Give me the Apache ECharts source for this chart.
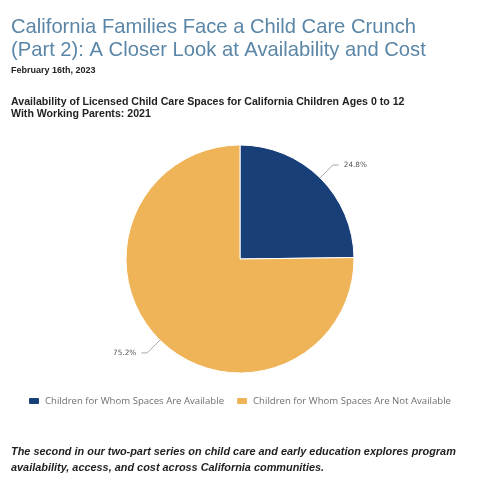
<!DOCTYPE html>
<html>
<head>
<meta charset="utf-8">
<script src="https://cdn.jsdelivr.net/npm/echarts@6/dist/echarts.min.js"></script>
<style>html,body{margin:0;padding:0;background:#fff;}#c{width:478px;height:481px;}</style>
</head>
<body>
<div id="c"></div>
<script>
const categories = ['Children for Whom Spaces Are Available', 'Children for Whom Spaces Are Not Available'];
const values = [24.8, 75.2];
const colors = ['#183f78', '#eeb457'];
const headline = 'California Families Face a Child Care Crunch\n(Part 2): A Closer Look at Availability and Cost';
const dateText = 'February 16th, 2023';
const chartTitle = 'Availability of Licensed Child Care Spaces for California Children Ages 0 to 12\nWith Working Parents: 2021';
const footer = 'The second in our two-part series on child care and early education explores program\navailability, access, and cost across California communities.';

const chart = echarts.init(document.getElementById('c'), null, {renderer: 'canvas'});
chart.setOption({
  backgroundColor: '#ffffff',
  animation: false,
  title: [
    {text: headline, left: 6, top: 11, textStyle: {fontFamily: 'Liberation Sans', fontSize: 20.2, fontWeight: 'normal', color: '#5a86a7', lineHeight: 23}},
    {text: dateText, left: 6, top: 60, textStyle: {fontFamily: 'Liberation Sans', fontSize: 9, fontWeight: 'bold', color: '#222', lineHeight: 11}},
    {text: chartTitle, left: 6, top: 91, textStyle: {fontFamily: 'Liberation Sans', fontSize: 10.6, fontWeight: 'bold', color: '#222', lineHeight: 12}},
    {text: footer, left: 6, top: 439, textStyle: {fontFamily: 'Liberation Sans', fontSize: 10.9, fontWeight: 'bold', fontStyle: 'italic', color: '#222', lineHeight: 16}}
  ],
  color: colors,
  legend: {
    data: categories,
    top: 391,
    left: 'center',
    itemWidth: 12,
    itemHeight: 8,
    itemGap: 11,
    icon: 'roundRect',
    textStyle: {fontFamily: 'Open Sans', fontSize: 9.6, color: '#707070'}
  },
  series: [{
    type: 'pie',
    center: [240, 259],
    radius: 114,
    startAngle: 90,
    clockwise: true,
    data: categories.map((n, i) => ({name: n, value: values[i]})),
    itemStyle: {borderColor: '#ffffff', borderWidth: 1},
    label: {formatter: '{c}%', fontFamily: 'DejaVu Sans', fontSize: 7.3, color: '#555'},
    labelLine: {length: 18, length2: 6, lineStyle: {color: '#aaa', width: 1}},
    emphasis: {disabled: true}
  }]
});
</script>
</body>
</html>
